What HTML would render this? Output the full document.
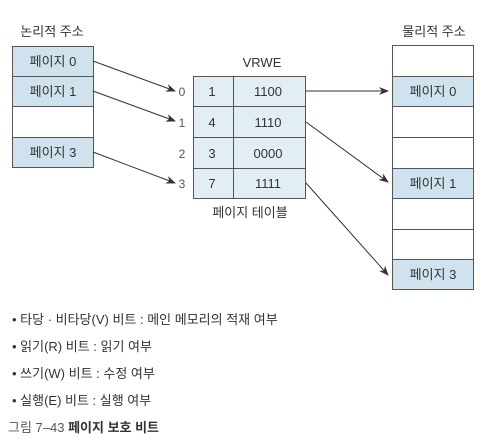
<!DOCTYPE html>
<html><head><meta charset="utf-8"><style>
body{margin:0;background:#fff;font-family:"Liberation Sans","Noto Sans CJK KR",sans-serif;color:#333}
</style></head><body>
<div style="position:relative;width:494px;height:443px;overflow:hidden">
<svg width="494" height="443" style="position:absolute;left:0;top:0" font-family="Liberation Sans, Noto Sans CJK KR, sans-serif" font-size="12" fill="#333">
<defs><marker id="a" markerWidth="10" markerHeight="8" refX="9" refY="4" orient="auto" markerUnits="userSpaceOnUse"><path d="M0,0 L10,4 L0,8 L3,4 z" fill="#333"/></marker></defs>
<g stroke="#555" stroke-width="1">
<rect x="12.5" y="46.5" width="81" height="30" fill="#cfe2ed"/>
<rect x="12.5" y="76.5" width="81" height="30" fill="#cfe2ed"/>
<rect x="12.5" y="106.5" width="81" height="31" fill="#fff"/>
<rect x="12.5" y="137.5" width="81" height="30" fill="#cfe2ed"/>
<rect x="193.5" y="76.5" width="112" height="122" fill="#e2eef4"/>
<line x1="193" y1="106.5" x2="306" y2="106.5"/><line x1="193" y1="137.5" x2="306" y2="137.5"/><line x1="193" y1="168.5" x2="306" y2="168.5"/>
<line x1="233.5" y1="76" x2="233.5" y2="199"/>
<rect x="392.5" y="45.5" width="81" height="244" fill="#fff"/>
<rect x="392.5" y="76.5" width="81" height="30" fill="#cfe2ed"/>
<rect x="392.5" y="168.5" width="81" height="30" fill="#cfe2ed"/>
<rect x="392.5" y="259.5" width="81" height="30" fill="#cfe2ed"/>
<line x1="392" y1="137.5" x2="474" y2="137.5"/><line x1="392" y1="229.5" x2="474" y2="229.5"/>
</g>
<g stroke="#333" stroke-width="1" marker-end="url(#a)">
<line x1="93" y1="61" x2="175" y2="91"/>
<line x1="93" y1="91" x2="175" y2="121"/>
<line x1="93" y1="152" x2="175" y2="183"/>
<line x1="306" y1="91" x2="388" y2="91"/>
<line x1="306" y1="122" x2="388" y2="182"/>
<line x1="306" y1="183" x2="388" y2="275"/>
</g>
<g text-anchor="middle">
<text x="52" y="36" font-size="13">논리적 주소</text><text x="434" y="36" font-size="13">물리적 주소</text>
<g font-size="13">
<text x="53" y="66">페이지 0</text><text x="53" y="96">페이지 1</text><text x="53" y="157">페이지 3</text>
<text x="433" y="96">페이지 0</text><text x="433" y="188">페이지 1</text><text x="433" y="279">페이지 3</text>
<text x="262" y="67">VRWE</text>
<text x="212" y="96">1</text><text x="212" y="127">4</text><text x="212" y="158">3</text><text x="212" y="188">7</text>
<text x="268" y="96">1100</text><text x="268" y="127">1110</text><text x="268" y="158">0000</text><text x="268" y="188">1111</text>
</g>
<text x="182" y="96" fill="#555">0</text><text x="182" y="127" fill="#555">1</text><text x="182" y="158" fill="#555">2</text><text x="182" y="188" fill="#555">3</text>
<text x="250" y="217" font-size="13">페이지 테이블</text>
</g>
<g font-size="13">
<text x="12" y="324">•  타당 · 비타당(V) 비트 : 메인 메모리의 적재 여부</text>
<text x="12" y="351">•  읽기(R) 비트 : 읽기 여부</text>
<text x="12" y="378">•  쓰기(W) 비트 : 수정 여부</text>
<text x="12" y="405">•  실행(E) 비트 : 실행 여부</text>
<text x="8" y="432" fill="#555">그림 7–43  <tspan font-weight="bold" fill="#333">페이지 보호 비트</tspan></text>
</g>
</svg>
</div>
</body></html>
